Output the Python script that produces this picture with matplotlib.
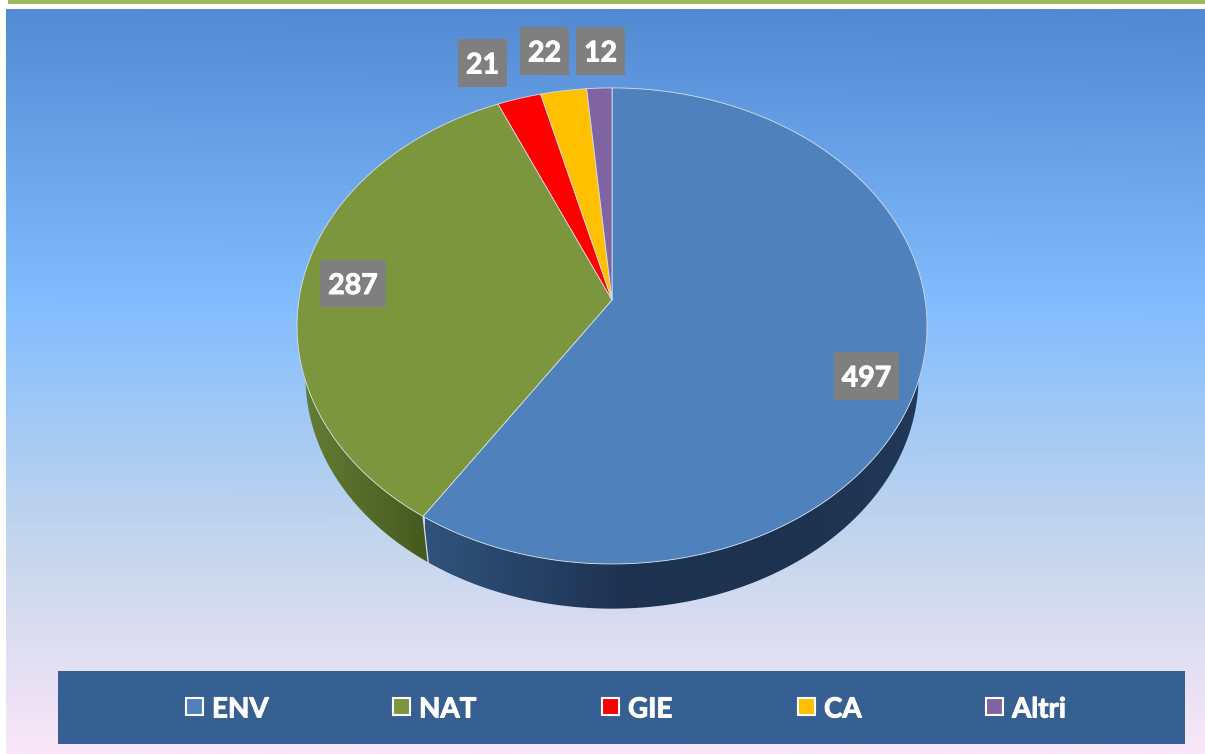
import numpy as np
import matplotlib
matplotlib.use("Agg")
import matplotlib.pyplot as plt
import matplotlib.patheffects as pe
from matplotlib.patches import Polygon, Rectangle
from matplotlib.colors import LinearSegmentedColormap, to_rgb

categories = ["ENV", "NAT", "GIE", "CA", "Altri"]
values = [497, 287, 21, 22, 12]

colori = ["#4F81BD", "#7C963E", "#FF0000", "#FFC000", "#8064A2"]

plt.rcParams['font.family'] = ['Lato', 'DejaVu Sans']

fig = plt.figure(figsize=(12.05, 7.54), dpi=100)
ax = fig.add_axes([0, 0, 1, 1])
ax.set_xlim(0, 1205)
ax.set_ylim(754, 0)
ax.axis('off')

# sfondo sfumato
stops = [(0.0, "#528AD3"), (0.40, "#83BDFF"), (0.72, "#C4D6EC"), (1.0, "#FAE6F8")]
cmap_sfondo = LinearSegmentedColormap.from_list("sfondo", stops)
yy, xx = np.mgrid[9:754:372j, 6:1205:300j]
tt = (yy - 9) / 745
tt = tt - 0.012 * (xx - 600) / 600 * (1 - tt) ** 3
ax.imshow(np.clip(tt, 0, 1), cmap=cmap_sfondo, vmin=0, vmax=1, extent=(6, 1205, 754, 9),
          aspect='auto', zorder=0, interpolation='bilinear')
ax.set_xlim(0, 1205)
ax.set_ylim(754, 0)

# barra verde in alto
ax.add_patch(Rectangle((8, 0), 1197, 3.5, fc="#9BBB59", ec='none', zorder=1))


# torta in prospettiva: cerchio unitario -> piano immagine
def top_point(ang):
    X = np.sin(ang)
    Y = -np.cos(ang)
    den = 1 - 0.109 * Y
    return 612 + 313.1 * X / den, 300 + 235.2 * Y / den


def bottom_point(ang):
    x, y = top_point(ang)
    return 612 + 0.973 * (x - 612), 59.9 + 0.973 * y


total = sum(values)
angoli = np.concatenate([[0], np.cumsum(values)]) / total * 2 * np.pi


def gradient_side(verts, stops_x, x0, x1, zorder):
    # riempie il bordo con una sfumatura orizzontale
    poly = Polygon(verts, closed=True, fc='none', ec='none', zorder=zorder)
    ax.add_patch(poly)
    cm = LinearSegmentedColormap.from_list("s", stops_x)
    g = np.linspace(0, 1, 512).reshape(1, -1)
    im = ax.imshow(g, cmap=cm, extent=(x0, x1, 620, 300), aspect='auto', zorder=zorder)
    im.set_clip_path(poly)


# bordo laterale ENV e NAT (le fette piccole stanno dietro)
a = np.linspace(angoli[0], angoli[1], 400)
tx, ty = top_point(a)
bx, by = bottom_point(a)
side = np.column_stack([np.r_[tx, bx[::-1]], np.r_[ty, by[::-1]]])
gradient_side(side, [(0, "#30537C"), (0.4, "#1D3250"), (0.75, "#1D3350"), (1, "#22395A")],
              425, 930, 2)

a = np.linspace(angoli[1], angoli[2], 300)
tx, ty = top_point(a)
bx, by = bottom_point(a)
side = np.column_stack([np.r_[tx, bx[::-1]], np.r_[ty, by[::-1]]])
gradient_side(side, [(0, "#647E34"), (1, "#45581E")], 300, 432, 2)

# linea tra i due bordi
px0, py0 = top_point(angoli[1])
px1, py1 = bottom_point(angoli[1])
ax.plot([px0, px1], [py0, py1], color="#D5DDE5", lw=0.9, zorder=3)

# fette
for i in range(len(values)):
    a = np.linspace(angoli[i], angoli[i + 1], 300)
    x, y = top_point(a)
    verts = np.column_stack([np.r_[612, x], np.r_[300, y]])
    ax.add_patch(Polygon(verts, closed=True, fc=colori[i], ec="#D5DFEA", lw=0.6,
                         joinstyle='round', zorder=4))

grassetto = [pe.withStroke(linewidth=0.7, foreground='white')]

# etichette dei valori
etich_x = [834, 320, 458, 520, 576]
etich_y = [352, 260, 39, 27, 27]
etich_w = [65, 66, 49, 49, 49]
etich_h = [48, 47, 48, 48, 48]
for i in range(len(values)):
    ax.add_patch(Rectangle((etich_x[i], etich_y[i]), etich_w[i], etich_h[i],
                           fc="#7F7F7F", ec='none', zorder=5))
    ax.text(etich_x[i] + etich_w[i] / 2, etich_y[i] + etich_h[i] / 2, str(values[i]),
            color='white', fontsize=20.5, fontweight='bold', ha='center',
            va='center_baseline', zorder=6, path_effects=grassetto)

# legenda
ax.add_patch(Rectangle((58, 671), 1127, 73, fc="#366092", ec='none', zorder=5))
leg_x = [185, 392, 601, 797, 985]
for i, nome in enumerate(categories):
    ax.add_patch(Rectangle((leg_x[i] + 1, 698), 17, 17, fc=colori[i], ec='white',
                           lw=1.5, zorder=6))
    ax.text(leg_x[i] + 27, 707, nome, color='white', fontsize=20, fontweight='bold',
            ha='left', va='center_baseline', zorder=6, path_effects=grassetto)

fig.savefig("out.png", dpi=100)
